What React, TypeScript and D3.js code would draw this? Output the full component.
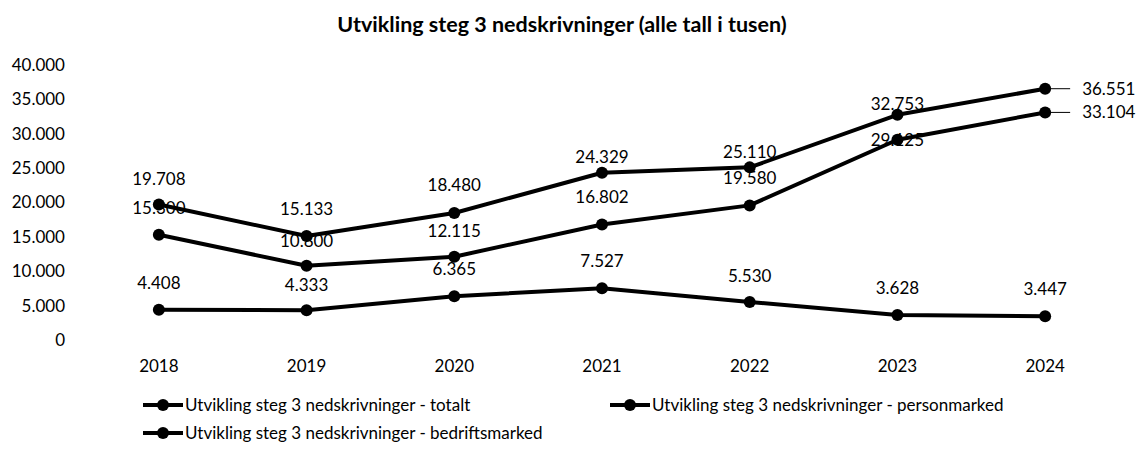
import { useMemo } from "react";
import * as d3 from "d3";

const WIDTH = 1136;
const HEIGHT = 457;

const years = ["2018", "2019", "2020", "2021", "2022", "2023", "2024"];
const totalt = [19708, 15133, 18480, 24329, 25110, 32753, 36551];
const personmarked = [15300, 10800, 12115, 16802, 19580, 29125, 33104];
const bedriftsmarked = [4408, 4333, 6365, 7527, 5530, 3628, 3447];
const yTicks = [0, 5000, 10000, 15000, 20000, 25000, 30000, 35000, 40000];

const seriesNames = [
  "Utvikling steg 3 nedskrivninger - totalt",
  "Utvikling steg 3 nedskrivninger - personmarked",
  "Utvikling steg 3 nedskrivninger - bedriftsmarked",
];

const FONT = "Lato, 'Open Sans', sans-serif";
const FS = 17;

// label offset above the point (null = put it on the right with a leader line)
const labelDy: (number | null)[][] = [
  [-25, -27, -28, -16, -15, -11, null],
  [-27, -25, -26, -27, -27, 0, null],
  [-27, -25, -27, -27, -26, -27, -27],
];

const fmt = (v: number) => d3.format(",")(v).replace(/,/g, ".");

export default function App() {
  const series = [totalt, personmarked, bedriftsmarked];
  const margin = { left: 85, right: 17, top: 65, bottom: 117 };

  const x = useMemo(
    () => d3.scaleBand().domain(years).range([margin.left, WIDTH - margin.right]),
    []
  );
  const y = useMemo(
    () => d3.scaleLinear().domain([0, 40000]).range([HEIGHT - margin.bottom, margin.top]),
    []
  );
  const cx = (yr: string) => (x(yr) ?? 0) + x.bandwidth() / 2;

  const line = d3
    .line<number>()
    .x((_, i) => cx(years[i]))
    .y((d) => y(d));

  const legendPos = [
    { x: 143, y: 405 },
    { x: 610, y: 405 },
    { x: 143, y: 433 },
  ];

  return (
    <svg
      width={WIDTH}
      height={HEIGHT}
      style={{ position: "absolute", left: 0, top: 0, background: "#fff" }}
      fontFamily={FONT}
    >
      <text x={562} y={32} textAnchor="middle" fontSize={21.5} fontWeight="bold" fill="#000">
        Utvikling steg 3 nedskrivninger (alle tall i tusen)
      </text>

      {yTicks.map((t) => (
        <text key={t} x={65} y={y(t)} dy="0.35em" textAnchor="end" fontSize={FS} fill="#000">
          {fmt(t)}
        </text>
      ))}

      {years.map((yr) => (
        <text key={yr} x={cx(yr)} y={366} dy="0.35em" textAnchor="middle" fontSize={FS} fill="#000">
          {yr}
        </text>
      ))}

      {series.map((s, si) => (
        <g key={si}>
          <path d={line(s) || undefined} fill="none" stroke="#000" strokeWidth={4} strokeLinejoin="round" />
          {s.map((v, i) => (
            <circle key={i} cx={cx(years[i])} cy={y(v)} r={6} fill="#000" />
          ))}
        </g>
      ))}

      {series.map((s, si) =>
        s.map((v, i) => {
          const px = cx(years[i]);
          const py = y(v);
          const dy = labelDy[si][i];
          if (dy === null) {
            return (
              <g key={`${si}-${i}`}>
                <line x1={px} x2={px + 25} y1={py} y2={py} stroke="#000" strokeWidth={1} />
                <text x={px + 37} y={py} dy="0.35em" fontSize={FS} fill="#000">
                  {fmt(v)}
                </text>
              </g>
            );
          }
          return (
            <text key={`${si}-${i}`} x={px} y={py + dy} dy="0.35em" textAnchor="middle" fontSize={FS} fill="#000">
              {fmt(v)}
            </text>
          );
        })
      )}

      {seriesNames.map((name, i) => {
        const p = legendPos[i];
        return (
          <g key={name} transform={`translate(${p.x},${p.y})`}>
            <line x1={0} x2={40} y1={0} y2={0} stroke="#000" strokeWidth={4} />
            <circle cx={20} cy={0} r={6} fill="#000" />
            <text x={42} y={0} dy="0.35em" fontSize={FS} fill="#000">
              {name}
            </text>
          </g>
        );
      })}
    </svg>
  );
}
